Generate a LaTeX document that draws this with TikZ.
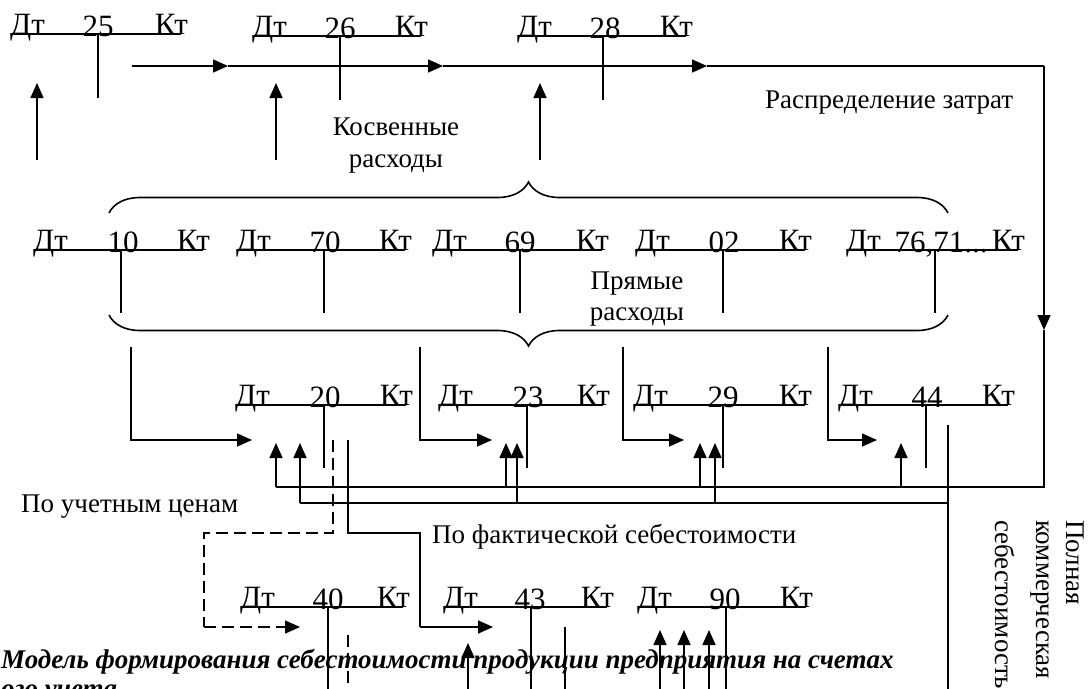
\documentclass[tikz,border=0pt]{standalone}
\usepackage{fontspec}
\setmainfont{Liberation Serif}
\usetikzlibrary{arrows.meta,decorations.pathreplacing}
\tikzset{
  ln/.style={line width=1.6pt},
  arr/.style={ln,-{Triangle[length=15pt,width=13pt]}},
  dsh/.style={ln,dash pattern=on 12pt off 6pt},
  acc/.style={font=\fontsize{31}{31}\selectfont, inner sep=0pt, anchor=base},
  lbl/.style={font=\fontsize{27}{30}\selectfont, inner sep=0pt, anchor=base},
  captxt/.style={font=\fontsize{27}{27}\selectfont\bfseries\itshape, inner sep=0pt, anchor=base west},
  brc/.style={ln, decorate, decoration={brace, amplitude=31pt}},
}
\newcommand\tacct[6]{%
  \node[acc,anchor=base west] (#1d) at (#3,#6) {Дт};
  \node[acc,anchor=base] (#1n) at (#4,#6+2) {#2};
  \node[acc,anchor=base east] (#1k) at (#5,#6) {Кт};
  \coordinate (#1l) at (#3+2,#6);
  \coordinate (#1r) at (#5-7,#6);
  \draw[ln] (#1l) -- (#1r);
}
\begin{document}
\begin{tikzpicture}[x=1pt,y=-1pt]
\useasboundingbox (0,0) rectangle (1091,688);
\clip (0,0) rectangle (1091,688);
% ---- accounts
\tacct{a25}{25}{10}{98}{188}{34}
\tacct{a26}{26}{252}{340}{428}{36}
\tacct{a28}{28}{517}{605}{693}{36}
\tacct{a10}{10}{33}{123}{210}{250}
\tacct{a70}{70}{236}{325}{412}{250}
\tacct{a69}{69}{432}{520}{609}{250}
\tacct{a02}{02}{635}{724}{812}{250}
\tacct{a76}{76,71...}{846}{941}{1025}{250}
\tacct{a20}{20}{235}{325}{413}{405}
\tacct{a23}{23}{438}{528}{610}{405}
\tacct{a29}{29}{633}{723}{812}{405}
\tacct{a44}{44}{838}{927}{1015}{405}
\tacct{a40}{40}{240}{328}{410}{607}
\tacct{a43}{43}{443}{530}{614}{607}
\tacct{a90}{90}{637}{725}{813}{607}
% ---- T verticals
\foreach \n/\x/\ya/\yb in {a25/98/34/98, a26/340/36/100, a28/603/36/100,
  a10/121/250/313, a70/324/250/313, a69/520/250/313, a02/723/250/313, a76/935/250/313,
  a20/324/405/468, a23/527/405/468, a29/723/405/468, a44/926/405/468,
  a40/328/607/700, a43/531/607/700, a90/726/607/700}{
  \coordinate (\n t) at (\x,\ya);
  \coordinate (\n b) at (\x,\yb);
  \draw[ln] (\n t) -- (\n b);
}
% ---- labels
\node[lbl] (kos1) at (396,135) {Косвенные};
\node[lbl] (kos2) at (396,167) {расходы};
\node[lbl] (pr1) at (637,289) {Прямые};
\node[lbl] (pr2) at (637,320) {расходы};
\node[lbl,anchor=base west] (raspr) at (765,108) {Распределение затрат};
\node[lbl,anchor=base west] (uch) at (21,512) {По учетным ценам};
\node[lbl,anchor=base west] (fakt) at (432,543) {По фактической себестоимости};
\node[lbl,anchor=base west,rotate=-90] (pc1) at (1066,520) {Полная};
\node[lbl,anchor=base west,rotate=-90] (pc2) at (1036,520) {коммерческая};
\node[lbl,anchor=base west,rotate=-90] (pc3) at (995,520) {себестоимость};
\node[captxt] (cap1) at (1,668) {Модель формирования себестоимости продукции предприятия на счетах};
\node[captxt] (cap2) at (1,697) {ого учета};
% ---- braces
\coordinate (ub1) at (109,213); \coordinate (ub2) at (948,213);
\draw[brc] (ub1) -- (ub2);
\coordinate (lb1) at (948,315); \coordinate (lb2) at (109,315);
\draw[brc] (lb1) -- (lb2);
% ---- top flow
\coordinate (h0) at (132,66); \coordinate (h1) at (228,66);
\coordinate (h2) at (443,66); \coordinate (h3) at (707,66);
\coordinate (hc) at (1044,66); \coordinate (vd) at (1044,330);
\coordinate (vc) at (1044,487);
\draw[arr] (h0) -- (h1);
\draw[arr] (h1) -- (h2);
\draw[arr] (h2) -- (h3);
\draw[ln] (h3) -- (hc);
\draw[arr] (hc) -- (vd);
\coordinate (q1) at (276,487);
\draw[ln] (vd) -- (vc) -- (q1);
% up arrows top
\foreach \x in {37,276,540}{
  \coordinate (ua\x) at (\x,160); \coordinate (ut\x) at (\x,83);
  \draw[arr] (ua\x) -- (ut\x);
}
% up arrows from 487 line
\foreach \x in {276,506,700,901}{
  \coordinate (pa\x) at (\x,487); \coordinate (pt\x) at (\x,443);
  \draw[arr] (pa\x) -- (pt\x);
}
% line 503 and up arrows
\coordinate (r0) at (300,503); \coordinate (r1) at (948,503);
\draw[ln] (r0) -- (r1);
\foreach \x in {300,517,715}{
  \coordinate (ra\x) at (\x,503); \coordinate (rt\x) at (\x,443);
  \draw[arr] (ra\x) -- (rt\x);
}
\coordinate (fc1) at (948,425); \coordinate (fc2) at (948,700);
\draw[ln] (fc1) -- (fc2);
% bent arrows from direct costs
\foreach \x/\t in {131/252, 420/492, 623/684, 828/877}{
  \coordinate (ba\x) at (\x,347); \coordinate (bt\x) at (\t,440);
  \draw[arr] (ba\x) |- (bt\x);
}
% dashed route to 40
\coordinate (d0) at (333,440); \coordinate (d1) at (333,533);
\coordinate (d2) at (204,533); \coordinate (d3) at (204,627);
\coordinate (d4) at (300,627);
\draw[dsh] (d0) -- (d1) -- (d2) -- (d3);
\draw[dsh,-{Triangle[length=15pt,width=13pt]}] (d3) -- (d4);
\coordinate (d5) at (348,635); \coordinate (d6) at (348,700);
\draw[dsh] (d5) -- (d6);
% solid route to 43
\coordinate (s0) at (348,440); \coordinate (s1) at (348,533);
\coordinate (s2) at (420,533); \coordinate (s3) at (420,627);
\coordinate (s4) at (493,627);
\draw[ln] (s0) -- (s1) -- (s2) -- (s3);
\draw[arr] (s3) -- (s4);
% bottom arrows
\foreach \x/\t in {468/643, 660/630, 684/630, 709/630}{
  \coordinate (za\x) at (\x,700); \coordinate (zt\x) at (\x,\t);
  \draw[arr] (za\x) -- (zt\x);
}
\coordinate (w0) at (565,627); \coordinate (w1) at (565,700);
\draw[ln] (w0) -- (w1);
\end{tikzpicture}
\end{document}
